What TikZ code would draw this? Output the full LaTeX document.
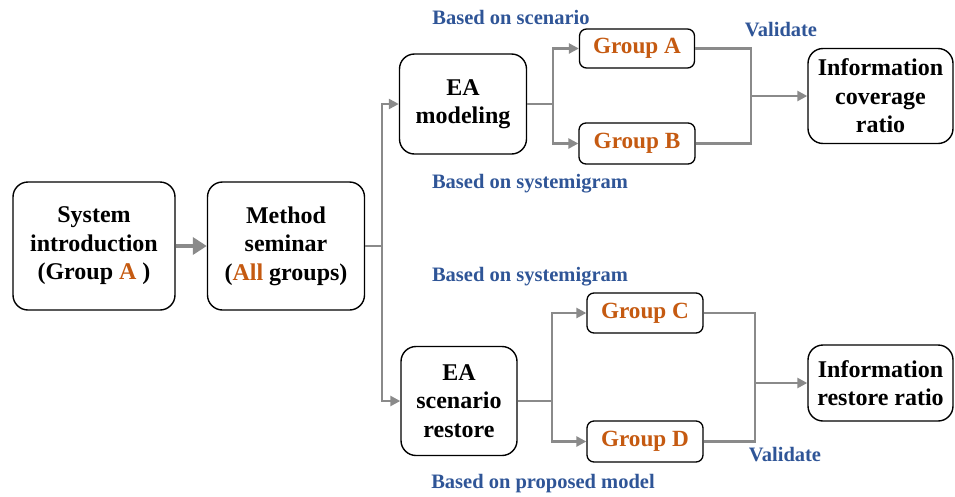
\documentclass[tikz,border=0pt]{standalone}
\usepackage{fontspec}
\setmainfont{Liberation Serif}
\usetikzlibrary{arrows.meta}
\definecolor{linegray}{HTML}{8A8A8A}
\definecolor{grporange}{HTML}{C55A11}
\definecolor{noteblue}{HTML}{2F5597}
\tikzset{
  bigbox/.style={draw=black, line width=1.4pt, rounded corners=15pt, align=center,
    font=\fontsize{24}{28.5}\selectfont\bfseries, inner sep=0pt},
  grpbox/.style={draw=black, line width=1.3pt, rounded corners=7pt, align=center,
    font=\fontsize{23.2}{26}\selectfont\bfseries, text=grporange, inner sep=0pt},
  note/.style={font=\fontsize{20.5}{23}\selectfont\bfseries, text=noteblue, inner sep=0pt},
  link/.style={draw=linegray, line width=2.4pt, line join=miter},
  flow/.style={link, -{Triangle[length=10pt,width=10pt]}},
  bigflow/.style={draw=linegray, line width=4pt, -{Triangle[length=14pt,width=17pt]}}
}
\begin{document}
\begin{tikzpicture}[x=1pt,y=-1pt]
\useasboundingbox (0,0) rectangle (955,496);

% left column
\node[bigbox, minimum width=162pt, minimum height=128pt] (sys) at (94,246)
  {System\\introduction\\(Group \textcolor{grporange}{A} )};
\node[bigbox, minimum width=157pt, minimum height=128pt] (sem) at (286,246)
  {Method\\seminar\\(\textcolor{grporange}{All} groups)};

% middle column
\node[bigbox, minimum width=127pt, minimum height=100pt] (eam) at (463,104)
  {EA\\modeling};
\node[bigbox, minimum width=116pt, minimum height=109pt] (eas) at (459,401)
  {EA\\scenario\\restore};

% group boxes
\node[grpbox, minimum width=115pt, minimum height=39pt] (ga) at (637,48.5) {Group A};
\node[grpbox, minimum width=116pt, minimum height=41pt] (gb) at (637,143.5) {Group B};
\node[grpbox, minimum width=116pt, minimum height=40pt] (gc) at (645,313) {Group C};
\node[grpbox, minimum width=116pt, minimum height=41pt] (gd) at (645,441.5) {Group D};

% results
\node[bigbox, minimum width=145pt, minimum height=95pt] (cov) at (880.5,96)
  {Information\\coverage\\ratio};
\node[bigbox, minimum width=145pt, minimum height=76pt] (res) at (880.5,383)
  {Information\\restore ratio};

% annotations
\node[note] (n1) at (511,17) {Based on scenario};
\node[note] (n2) at (530,184) {Based on systemigram};
\node[note] (n3) at (530,277) {Based on systemigram};
\node[note] (n4) at (543,484) {Based on proposed model};
\node[note] (v1) at (781,30) {Validate};
\node[note] (v2) at (785,455) {Validate};

% junction points
\coordinate (j0) at (382,246);
\coordinate (j1) at (553,104);
\coordinate (j2) at (552,401);
\coordinate (j3) at (751,96);
\coordinate (j4) at (755,383);

% connectors
\draw[bigflow] (sys) -- (sem);
\draw[link] (sem.east) -- (j0);
\draw[flow] (j0) |- (eam.west);
\draw[flow] (j0) |- (eas.west);

\draw[link] (eam.east) -- (j1);
\draw[flow] (j1) |- (ga.west);
\draw[flow] (j1) |- (gb.west);
\draw[link] (ga.east) -| (j3);
\draw[link] (gb.east) -| (j3);
\draw[flow] (j3) -- (cov.west);

\draw[link] (eas.east) -- (j2);
\draw[flow] (j2) |- (gc.west);
\draw[flow] (j2) |- (gd.west);
\draw[link] (gc.east) -| (j4);
\draw[link] (gd.east) -| (j4);
\draw[flow] (j4) -- (res.west);
\end{tikzpicture}
\end{document}
